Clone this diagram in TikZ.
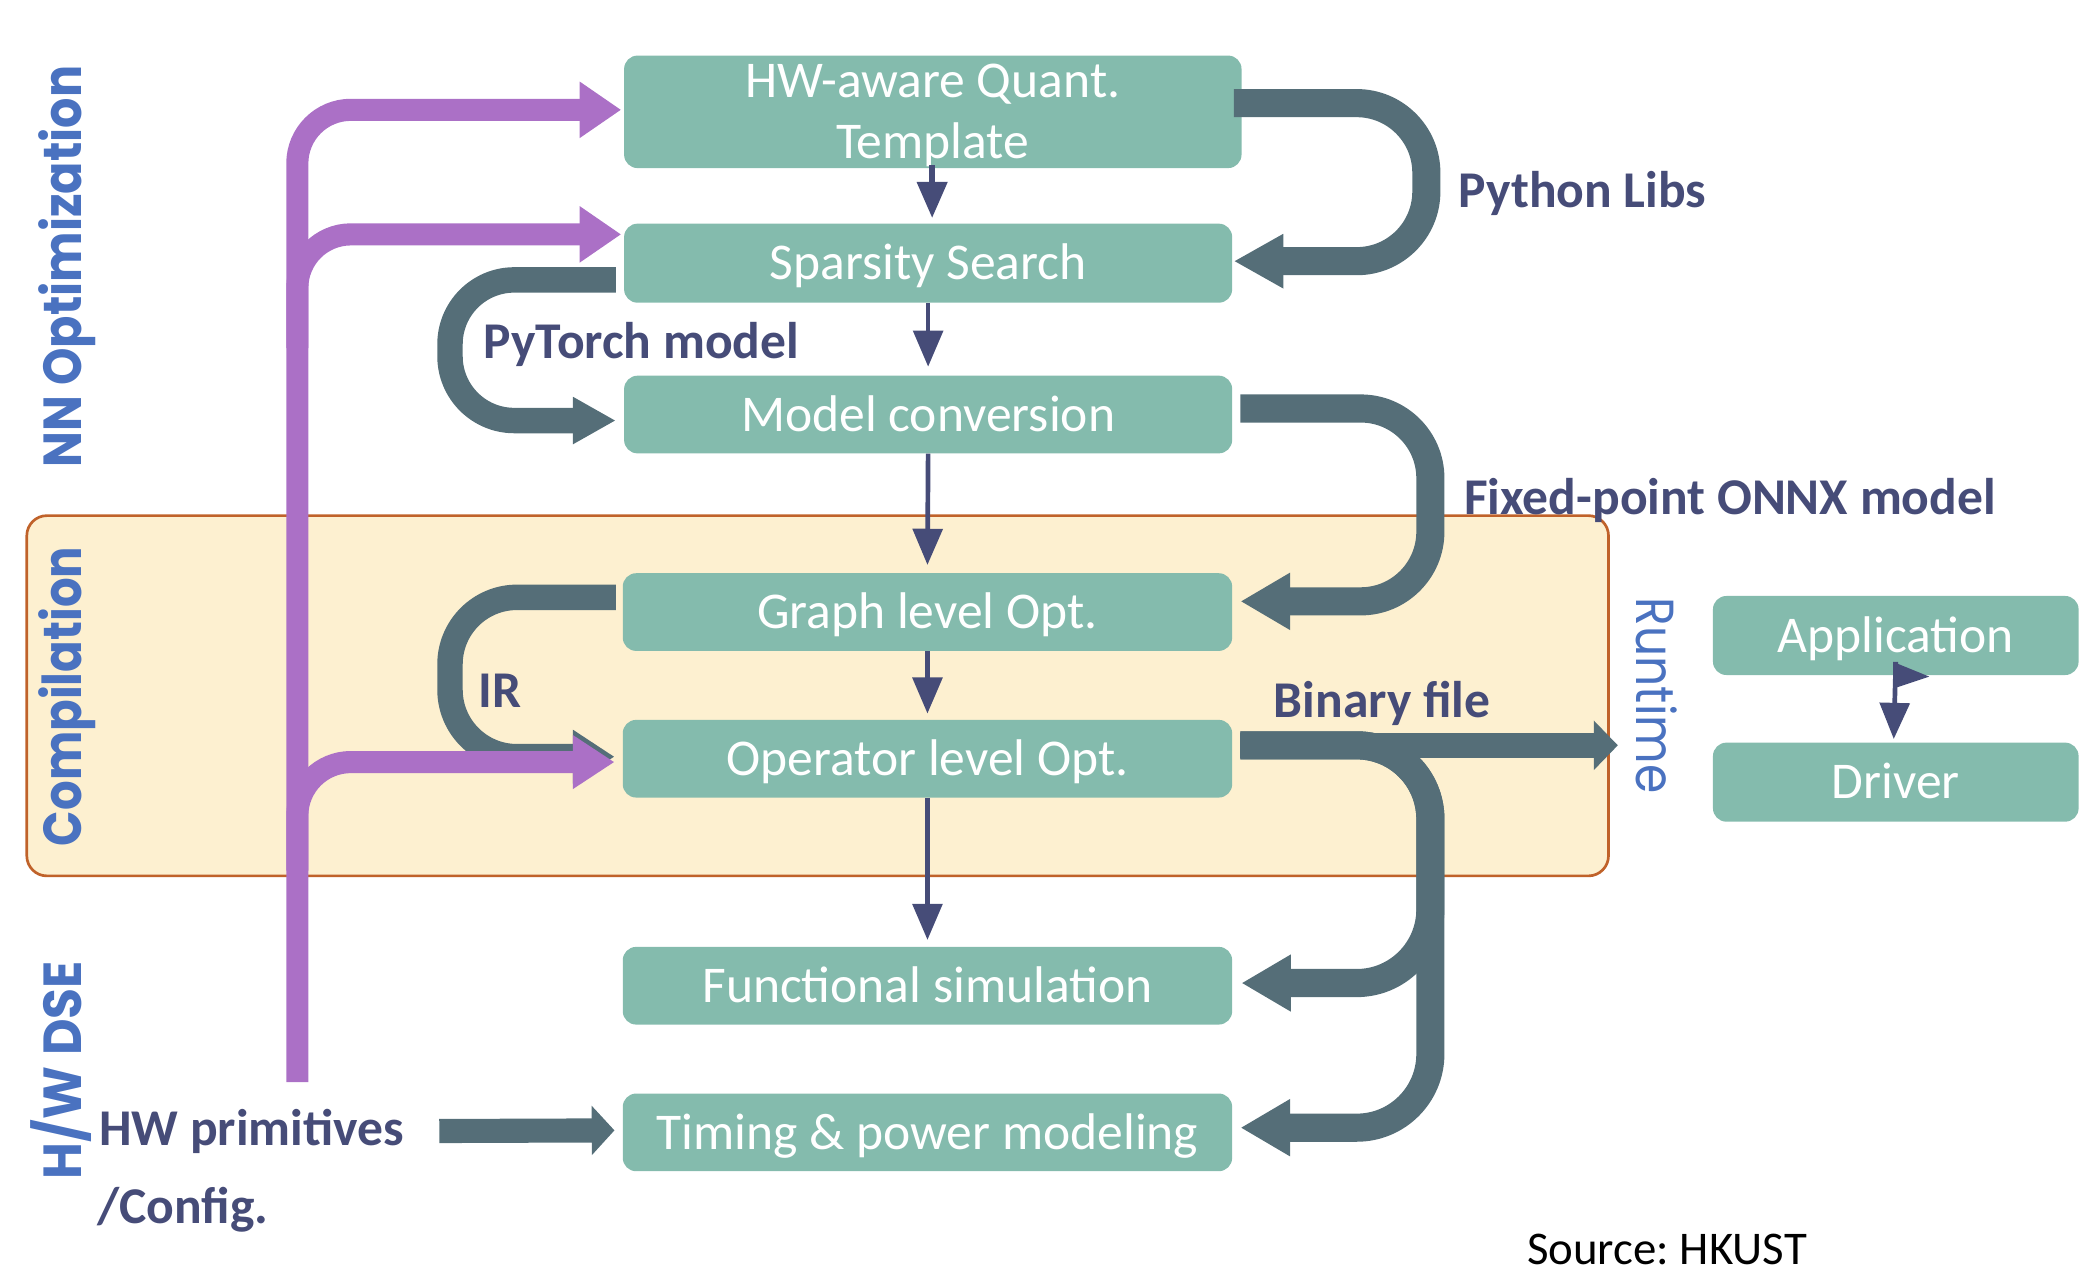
\documentclass[tikz,border=0pt]{standalone}
\usepackage{fontspec}
\usepackage{graphicx}
\setmainfont{Carlito}
\newfontfamily\sidefont{Poppins}
\usetikzlibrary{arrows.meta}
\definecolor{boxc}{RGB}{132,187,173}
\definecolor{navy}{RGB}{70,76,120}
\definecolor{slate}{RGB}{85,110,120}
\definecolor{purp}{RGB}{171,112,198}
\definecolor{sideblue}{RGB}{74,114,192}
\definecolor{compfill}{RGB}{253,240,208}
\definecolor{compline}{RGB}{192,98,42}
\frenchspacing
\begin{document}
\begin{tikzpicture}[x=1pt,y=-1pt,
  blk/.style={fill=boxc, rounded corners=10pt, inner sep=0pt, text=white,
    font=\fontsize{38.5}{45}\selectfont},
  one/.style={text height=25pt, text depth=0pt},
  thinarrow/.style={draw=navy, line width=3.5pt, -{Triangle[length=27pt,width=22pt]}},
  fat/.style={draw=slate, line width=21pt, rounded corners=52pt, -{Triangle[length=37pt,width=40pt]}},
  purparrow/.style={draw=purp, line width=16.5pt, rounded corners=40pt, -{Triangle[length=31pt,width=40pt]}},
  lab/.style={text=navy, font=\fontsize{38.5}{45}\selectfont\bfseries, inner sep=0pt, anchor=base west},
  side/.style={text=sideblue, font=\fontsize{40}{48}\selectfont\sidefont\bfseries, inner sep=0pt, anchor=base},
]
\useasboundingbox (0,0) rectangle (1568,955.7);

% compilation band
\draw[fill=compfill, draw=compline, line width=2pt, rounded corners=15pt] (20,385) rectangle (1201,654);

% side labels
\node[side, rotate=90] (nnopt) at (61,199) {\scalebox{0.89}[1]{NN Optimization}};
\node[side, rotate=90] (compl) at (61,520) {\scalebox{0.87}[1]{Compilation}};
\node[side, rotate=90] (hwdse) at (61,799) {\scalebox{0.94}[1]{H/W DSE}};
\node[side, font=\fontsize{40}{48}\selectfont\sidefont, rotate=-90] (runt) at (1222,519.5) {\scalebox{0.88}[1]{Runtime}};

% boxes
\node[blk, minimum width=461pt, minimum height=84pt] (b1) at (696.5,83.5)
  {\raisebox{10.5pt}[0pt][0pt]{\begin{tabular}[t]{@{}c@{}}HW-aware Quant.\\Template\end{tabular}}};
\node[blk, one, minimum width=454pt, minimum height=59pt] (b2) at (693,196.5) {Sparsity Search};
\node[blk, one, minimum width=454pt, minimum height=58pt] (b3) at (693,309.5) {Model conversion};
\node[blk, one, minimum width=455pt, minimum height=58pt] (b4) at (692.5,457) {Graph level Opt.};
\node[blk, one, minimum width=455pt, minimum height=58pt] (b5) at (692.5,566.5) {Operator level Opt.};
\node[blk, one, minimum width=455pt, minimum height=58pt] (b6) at (692.5,736) {Functional simulation};
\node[blk, one, minimum width=455pt, minimum height=58pt] (b7) at (692.5,845.5) {Timing \& power modeling};
\node[blk, one, minimum width=273pt, minimum height=59pt] (app) at (1415.5,474.5) {Application};
\node[blk, one, minimum width=273pt, minimum height=59pt] (drv) at (1415.5,584) {Driver};

% labels
\node[lab] (pylib) at (1089,155) {Python Libs};
\node[lab] (onnx) at (1093,384) {Fixed-point ONNX model};
\node[lab] (pyt) at (361,268) {PyTorch model};
\node[lab] (ir) at (357,528) {IR};
\node[lab] (bin) at (951,536) {Binary file};
\node[lab] (hw) at (74,855) {HW primitives};
\node[lab] (cfg) at (72.5,913.4) {/Config.};
\node[font=\fontsize{35}{42}\selectfont, anchor=base west, inner sep=0pt] (src) at (1140,944) {Source: HKUST};

\coordinate (purpstart) at (222,808);
\coordinate (binend) at (1208,556.5);

% thin arrows
\draw[thinarrow, line width=4.5pt] ([xshift=-0.5pt,yshift=2.5pt]b1.south) -- ([xshift=3pt,yshift=4pt]b2.north);
\draw[thinarrow] (b2.south) -- ([yshift=6.5pt]b3.north);
\draw[thinarrow] (b3.south) -- ([yshift=6pt]b4.north);
\draw[thinarrow] (b4.south) -- ([yshift=4.5pt]b5.north);
\draw[thinarrow] (b5.south) -- ([yshift=5pt]b6.north);
\draw[thinarrow] ([yshift=10pt]app.south) -- ([xshift=-1.5pt,yshift=2.5pt]drv.north);
\fill[navy] ([xshift=-2pt,yshift=10pt]app.south) -- ++(27,11) -- ++(-27,9) -- cycle;

% thick slate arrows
\draw[fat, -{Triangle[length=37pt,width=38pt]}] ([xshift=-6pt,yshift=6.5pt]b1.east) -- (1065,77) -- (1065,195) -- ([xshift=1pt,yshift=1.5pt]b2.east);
\draw[fat] ([xshift=6pt,yshift=4.5pt]b3.east) -- (1068,305) -- (1068,449) -- ([xshift=6pt,yshift=8pt]b4.east);
\draw[fat, line width=19pt, rounded corners=48pt, -{Triangle[length=32pt,width=33pt]}] ([xshift=-6pt,yshift=-12.5pt]b2.west) -- (336,209) -- (336,314) -- ([xshift=-6pt,yshift=-4.5pt]b3.west);
\draw[fat, line width=19pt, rounded corners=50pt, -{Triangle[length=31pt,width=38pt]}] ([xshift=-5pt,yshift=11pt]b4.west) -- (336,446) -- (336,565) -- ([xshift=-6pt,yshift=1.5pt]b5.west);
\draw[fat, rounded corners=55pt] ([xshift=6pt,yshift=10pt]b5.east) -- (1068,556.5) -- (1068,734) -- ([xshift=6.7pt,yshift=2pt]b6.east);
\draw[fat, rounded corners=55pt] ([xshift=6pt,yshift=10pt]b5.east) -- (1068,556.5) -- (1068,842) -- ([xshift=6pt,yshift=3.5pt]b7.east);
\draw[fat, line width=19pt, -{Triangle[length=18pt,width=36pt]}] ([xshift=6pt,yshift=10pt]b5.east) -- (binend);
\draw[fat, line width=18pt, -{Triangle[length=17pt,width=36pt]}] ([xshift=26pt]hw.east) -- ([xshift=-6pt,yshift=1.5pt]b7.west);

% purple arrows
\draw[purparrow] (purpstart) -- (222,82) -- ([xshift=-2pt,yshift=1.5pt]b1.west);
\draw[purparrow] (222,260) -- (222,175) -- ([xshift=-2pt,yshift=21.5pt]b2.west);
\draw[purparrow, -{Triangle[length=31pt,width=38pt]}] (222,650) -- (222,569) -- ([xshift=-6pt,yshift=-2.5pt]b5.west);
\end{tikzpicture}
\end{document}
